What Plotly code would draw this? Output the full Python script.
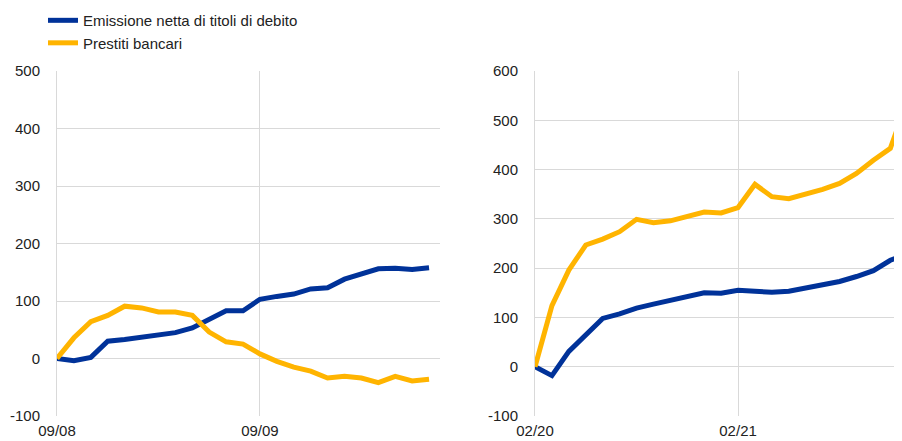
import plotly.graph_objects as go

# Left panel: monthly, starting 09/08
left_ticktext = ["09/08", "09/09"]
left_debt = [0, -4, 2, 30, 33, 37, 39, 45, 53, 67, 83, 83, 103, 108, 112, 121, 123,
             138, 147, 156, 157, 155, 158]
left_loans = [0, 36, 64, 75, 91, 88, 81, 81, 75, 46, 29, 25, 8, -5, -15, -22, -34,
              -31, -34, -42, -31, -39, -36]
left_yticks = [-100, 0, 100, 200, 300, 400, 500]

# Right panel: monthly, starting 02/20
right_ticktext = ["02/20", "02/21"]
right_debt = [0, -18, 31, 65, 98, 107, 119, 127, 134, 142, 150, 149, 155, 153, 151,
              153, 159, 167, 173, 183, 195, 216, 229]
right_loans = [0, 124, 196, 247, 259, 274, 299, 292, 296, 304, 314, 312, 323, 370,
               345, 341, 350, 360, 372, 392, 419, 443, 538]
right_yticks = [-100, 0, 100, 200, 300, 400, 500, 600]

names = ["Emissione netta di titoli di debito", "Prestiti bancari"]
BLUE = "#003299"
YELLOW = "#FFB400"
FONT = "Liberation Sans, Arial, sans-serif"
FS = 15

fig = go.Figure()
lx = list(range(len(left_debt)))
rx = list(range(len(right_debt)))

fig.add_trace(go.Scatter(x=lx, y=left_debt, mode="lines", name=names[0],
                         line=dict(color=BLUE, width=5), xaxis="x", yaxis="y"))
fig.add_trace(go.Scatter(x=lx, y=left_loans, mode="lines", name=names[1],
                         line=dict(color=YELLOW, width=5), xaxis="x", yaxis="y"))
fig.add_trace(go.Scatter(x=rx, y=right_debt, mode="lines", name=names[0], showlegend=False,
                         line=dict(color=BLUE, width=5), xaxis="x2", yaxis="y2"))
fig.add_trace(go.Scatter(x=rx, y=right_loans, mode="lines", name=names[1], showlegend=False,
                         line=dict(color=YELLOW, width=5), xaxis="x2", yaxis="y2"))

grid = "#d9d9d9"
axis_common = dict(showgrid=True, gridcolor=grid, gridwidth=1, zeroline=False, automargin=False,
                   tickfont=dict(family=FONT, size=FS, color="#222222"))

fig.update_layout(
    width=894, height=433,
    margin=dict(l=49, r=0, t=63, b=25, autoexpand=False),
    paper_bgcolor="white", plot_bgcolor="white",
    font=dict(family=FONT, size=FS, color="#222222"),
    showlegend=True,
    legend=dict(x=-0.0166, y=1.194, xref="paper", yref="paper", xanchor="left", yanchor="top",
                orientation="v", font=dict(family=FONT, size=FS, color="#222222"),
                bgcolor="rgba(0,0,0,0)", tracegroupgap=0, itemwidth=30),
    xaxis=dict(domain=[0, 0.4533], range=[0, 22.65], tickmode="array",
               tickvals=[0, 12], ticktext=left_ticktext, ticks="", ticklabelstandoff=4,
               **axis_common),
    yaxis=dict(range=[-100, 500], tickmode="array", tickvals=left_yticks,
               ticktext=[str(v) for v in left_yticks], ticks="", showline=True, linecolor=grid,
               ticklabelstandoff=13, anchor="x", **axis_common),
    xaxis2=dict(domain=[0.5657, 1], range=[0, 21.69], tickmode="array",
                tickvals=[0, 12], ticktext=right_ticktext, ticks="", anchor="y2",
                ticklabelstandoff=4, **axis_common),
    yaxis2=dict(range=[-100, 600], tickmode="array", tickvals=right_yticks,
                ticktext=[str(v) for v in right_yticks], ticks="", showline=True, linecolor=grid,
                anchor="x2", ticklabelstandoff=13, **axis_common),
)

fig.write_html("out.html")
